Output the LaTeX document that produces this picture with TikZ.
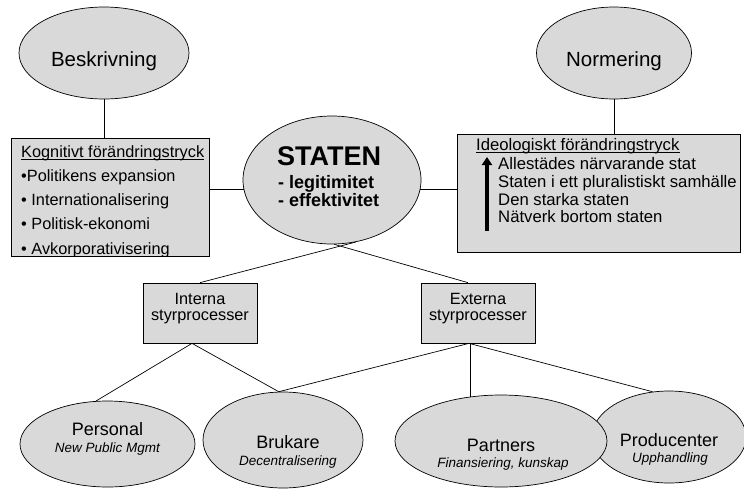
\documentclass[tikz,border=0pt]{standalone}
\usepackage{fontspec}
\setmainfont{Liberation Sans}
\usetikzlibrary{shapes.geometric, arrows.meta, positioning}
\definecolor{ovalgray}{RGB}{217,217,217}
\tikzset{>=latex}
\tikzset{
  oval/.style={ellipse, draw=black, fill=ovalgray, line width=0.7pt, inner sep=0pt},
  panel/.style={rectangle, draw=black, fill=ovalgray, line width=0.7pt, inner sep=0pt},
  txt/.style={inner sep=0pt, anchor=base},
  ltxt/.style={inner sep=0pt, anchor=base west},
  link/.style={line width=0.7pt},
  big/.style={font=\fontsize{20.5}{24}\selectfont},
  mid/.style={font=\fontsize{18}{21}\selectfont},
  small/.style={font=\fontsize{13.5}{16}\selectfont\itshape},
  boxfont/.style={font=\fontsize{16.3}{19}\selectfont},
}

\begin{document}
\begin{tikzpicture}[x=1pt, y=-1pt]
  \useasboundingbox (0,0) rectangle (744,488);

  % the two top ovals
  \node[oval, minimum width=170pt, minimum height=92pt] (beskrivning) at (104,53) {};
  \node[txt, big] (beskrivning-t) at (104,66) {Beskrivning};
  \node[oval, minimum width=155pt, minimum height=92pt] (normering) at (614,53) {};
  \node[txt, big] (normering-t) at (614,66) {Normering};

  % the state in the middle
  \node[oval, minimum width=178pt, minimum height=128pt] (staten) at (332,180) {};
  \node[ltxt, font=\fontsize{27}{30}\selectfont\bfseries] (staten-t) at (277,165) {STATEN};
  \node[ltxt, font=\fontsize{18}{21}\selectfont\bfseries] (legitimitet) at (278,188) {- legitimitet};
  \node[ltxt, font=\fontsize{18}{21}\selectfont\bfseries] (effektivitet) at (278,206) {- effektivitet};

  % pressure boxes
  \node[panel, minimum width=198pt, minimum height=118pt] (kognitiv) at (110,197) {};
  \begin{scope}
    \clip ([yshift=0.5pt]kognitiv.south west) rectangle (kognitiv.north east);
    \node[ltxt, boxfont] (kog-title) at (21,157) {Kognitivt förändringstryck};
    \node[ltxt, boxfont] (kog-1) at (21,181) {•Politikens expansion};
    \node[ltxt, boxfont] (kog-2) at (21,205) {• Internationalisering};
    \node[ltxt, boxfont] (kog-3) at (21,229) {• Politisk-ekonomi};
    \node[ltxt, boxfont] (kog-4) at (21,254) {• Avkorporativisering};
  \end{scope}
  \draw[line width=0.8pt] ([yshift=-2pt]kog-title.base west) -- ([yshift=-2pt]kog-title.base east);

  \node[panel, minimum width=283pt, minimum height=118pt] (ideologisk) at (598.5,193) {};
  \node[ltxt, font=\fontsize{16.7}{19}\selectfont] (ideo-title) at (476,150) {Ideologiskt förändringstryck};
  \draw[line width=0.8pt] ([yshift=-2pt]ideo-title.base west) -- ([yshift=-2pt]ideo-title.base east);
  \foreach \t [count=\i] in {Allestädes närvarande stat, Staten i ett pluralistiskt samhälle,
      Den starka staten, Nätverk bortom staten}
    \node[ltxt, font=\fontsize{16.7}{19}\selectfont] (ideo-\i) at (498,{152+17.7*\i}) {\t};
  \coordinate (arrbot) at (487,231);
  \coordinate (arrtop) at (487,157);
  \draw[line width=3.5pt, -{Triangle[length=8pt, width=10pt]}] (arrbot) -- (arrtop);

  % steering processes
  \node[panel, minimum width=114pt, minimum height=60pt] (interna) at (200,313) {};
  \node[txt, boxfont] (interna-1) at (200,304) {Interna};
  \node[txt, boxfont] (interna-2) at (200,320) {styrprocesser};
  \node[panel, minimum width=114pt, minimum height=60pt] (externa) at (478,313) {};
  \node[txt, boxfont] (externa-1) at (478,304) {Externa};
  \node[txt, boxfont] (externa-2) at (478,320) {styrprocesser};

  % bottom ovals (partners lies over producenter)
  \node[oval, minimum width=175pt, minimum height=86pt] (personal) at (107.5,444) {};
  \node[txt, mid] (personal-1) at (107.5,435) {Personal};
  \node[txt, small] (personal-2) at (107.5,452) {New Public Mgmt};
  \node[oval, minimum width=160pt, minimum height=96pt] (brukare) at (283,440) {};
  \node[txt, mid] (brukare-1) at (288,448) {Brukare};
  \node[txt, small] (brukare-2) at (288,465) {Decentralisering};
  \node[oval, minimum width=154pt, minimum height=92pt] (producenter) at (669,437) {};
  \node[txt, mid] (producenter-1) at (669,446) {Producenter};
  \node[txt, small] (producenter-2) at (670,462) {Upphandling};
  \node[oval, minimum width=212pt, minimum height=92pt] (partners) at (501,441) {};
  \node[txt, mid] (partners-1) at (501,451) {Partners};
  \node[txt, small] (partners-2) at (503,467) {Finansiering, kunskap};

  % connectors
  \draw[link] (beskrivning.south) -- (beskrivning.south |- kognitiv.north);
  \draw[link] (normering.south) -- (normering.south |- ideologisk.north);
  \draw[link] (staten.186) -- (staten.186 -| kognitiv.east);
  \draw[link] (staten.-6) -- (staten.-6 -| ideologisk.west);
  \coordinate (extop) at ([xshift=-10pt]externa.north);
  \coordinate (exbot) at ([xshift=-9pt]externa.south);
  \coordinate (inbot) at ([xshift=-8pt]interna.south);
  \draw[link] (staten.-69) -- (interna.north);
  \draw[link] (staten.-88) -- (extop);
  \draw[link] (inbot) -- (personal.105);
  \draw[link] (inbot) -- (brukare.95);
  \draw[link] (exbot) -- (brukare.95);
  \draw[link] (partners.125) -- (partners.125 |- exbot);
  \draw[link] (exbot) -- (producenter.110);
\end{tikzpicture}
\end{document}
